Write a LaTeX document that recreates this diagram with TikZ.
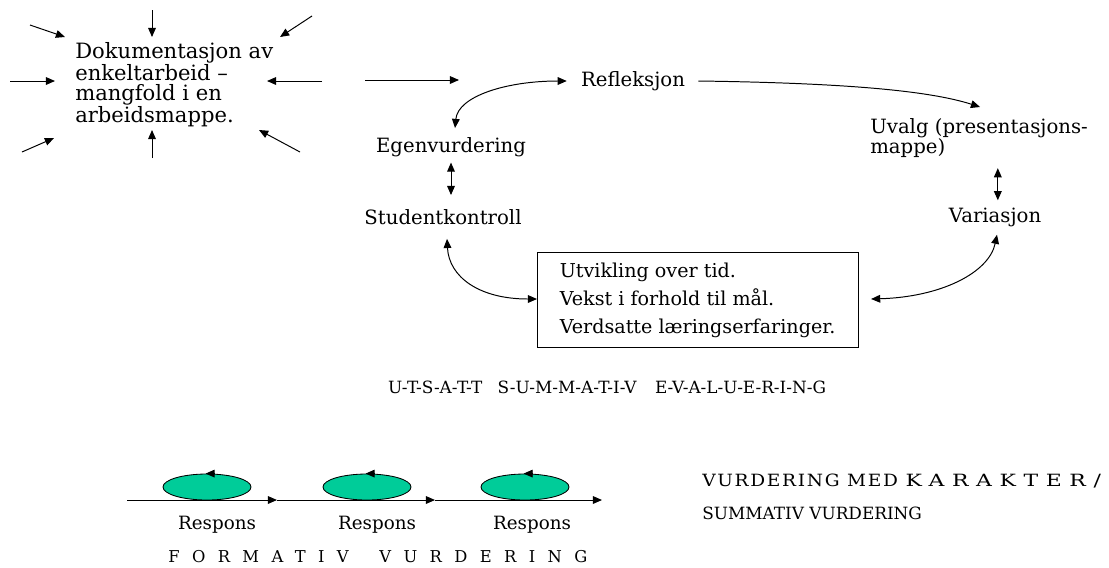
\documentclass[tikz,border=0pt]{standalone}
\usepackage{fontspec}
\usepackage{tikz}
\usetikzlibrary{shapes.geometric, arrows.meta}
\usetikzlibrary{calc}
\setmainfont{DejaVu Serif}
\newfontfamily\spacedfont[LetterSpace=76]{DejaVu Serif}
\newfontfamily\capsfont[FakeStretch=1.1, LetterSpace=10]{DejaVu Serif}
\newfontfamily\widecapsfont[FakeStretch=1.3, LetterSpace=45]{DejaVu Serif}
\definecolor{respgreen}{RGB}{0,204,153}
\tikzstyle{lbl} = [inner sep=0pt, font=\fontsize{14}{14.2}\selectfont]
\tikzstyle{arrow} = [line width=0.7pt, -{Triangle[length=6.5pt,width=5.5pt]}]
\tikzstyle{dblarrow} = [line width=0.7pt, {Triangle[length=6.5pt,width=5.5pt]}-{Triangle[length=6.5pt,width=5.5pt]}]
\tikzstyle{loopnode} = [ellipse, draw=black, line width=0.6pt, fill=respgreen, minimum width=2.2cm, minimum height=0.65cm, inner sep=0pt]
\tikzstyle{box} = [draw=black, line width=0.7pt, anchor=north west, minimum width=8.025cm, minimum height=2.375cm, inner sep=0pt]

\begin{document}
\begin{tikzpicture}[x=0.025cm, y=-0.025cm]
        \useasboundingbox (0,0) rectangle (1109,567);

        % work folder with everything pointing in
        \node(doc) [lbl, anchor=north west, align=left, font=\fontsize{15}{14.3}\selectfont] at (75,42) {Dokumentasjon av\\enkeltarbeid –\\mangfold i en\\arbeidsmappe.};
        \coordinate (nt) at (152,10);  \coordinate (nh) at (152,37);
        \coordinate (nwt) at (30,25);  \coordinate (nwh) at (65,37);
        \coordinate (net) at (312,16); \coordinate (neh) at (280,37);
        \coordinate (wt) at (10,81);   \coordinate (wh) at (55,81);
        \coordinate (et) at (322,81);  \coordinate (eh) at (267,81);
        \coordinate (swt) at (22,152); \coordinate (swh) at (54,138);
        \coordinate (st) at (152,158); \coordinate (sh) at (152,130);
        \coordinate (set) at (300,152); \coordinate (seh) at (259,130);

        \draw[arrow] (nt) -- (nh);
        \draw[arrow] (nwt) -- (nwh);
        \draw[arrow] (net) -- (neh);
        \draw[arrow] (wt) -- (wh);
        \draw[arrow] (et) -- (eh);
        \draw[arrow] (swt) -- (swh);
        \draw[arrow] (st) -- (sh);
        \draw[arrow] (set) -- (seh);

        \coordinate (flowA) at (365,80);
        \coordinate (flowB) at (459,80);
        \draw[arrow] (flowA) -- (flowB);

        % the cycle
        \node(refl) [lbl] at (633,81) {Refleksjon};
        \node(egen) [lbl] at (451,147) {Egenvurdering};
        \node(stud) [lbl] at (443,217) {Studentkontroll};
        \node(uvalg) [lbl, anchor=north west, align=left, font=\fontsize{14}{13.5}\selectfont] at (870,118) {Uvalg (presentasjons-\\mappe)};
        \node(var) [lbl] at (995,217) {Variasjon};
        \node(goal) [box] at (537,252) {};
        \node(goaltext) [lbl, anchor=west, align=left, font=\fontsize{13.6}{19.85}\selectfont] at ([xshift=16pt]goal.west) {Utvikling over tid.\\Vekst i forhold til mål.\\Verdsatte læringserfaringer.};

        \draw[dblarrow] ([shift={(4,-9)}]egen.north) .. controls +(3,-32) and +(-60,0) .. ([shift={(-14,0)}]refl.west);
        \draw[arrow] ([shift={(13,0)}]refl.east) .. controls +(150,2) and +(-50,-16) .. ([shift={(1,-11)}]uvalg.north);
        \draw[dblarrow, shorten <=4pt, shorten >=10pt] (egen.south) -- (egen.south |- stud.north);
        \draw[dblarrow, shorten <=7pt, shorten >=5pt] ([xshift=2pt]var.north |- uvalg.south) -- ([xshift=2pt]var.north);
        \draw[dblarrow] ([shift={(4,14)}]stud.south) .. controls +(2,38) and +(-58,0) .. ([shift={(0,-1)}]goal.west);
        \draw[dblarrow] ([shift={(2,8)}]var.south) .. controls +(-8,38) and +(70,-2) .. ([shift={(12,-1)}]goal.east);

        \node(utsatt) [lbl, font=\fontsize{12}{12}\selectfont] at (607,387) {U-T-S-A-T-T\hspace{0.9em}S-U-M-M-A-T-I-V\hspace{1.1em}E-V-A-L-U-E-R-I-N-G};

        % formative loop
        \node(resp1) [loopnode] at (207,487) {};
        \node(resp2) [loopnode] at (367,487) {};
        \node(resp3) [loopnode] at (525,487) {};
        \draw[arrow] ([xshift=6pt]resp1.north) -- ([xshift=-1pt]resp1.north);
        \draw[arrow] ([xshift=6pt]resp2.north) -- ([xshift=-1pt]resp2.north);
        \draw[arrow] ([xshift=6pt]resp3.north) -- ([xshift=-1pt]resp3.north);

        \coordinate (b0) at (127,500);
        \coordinate (b1) at (277,500);
        \coordinate (b2) at (435,500);
        \coordinate (b3) at (602,500);
        \draw[arrow] (b0) -- (b1);
        \draw[arrow] (b1) -- (b2);
        \draw[arrow] (b2) -- (b3);

        \node(lab1) [lbl, font=\fontsize{13}{13}\selectfont] at (217,525) {Respons};
        \node(lab2) [lbl, font=\fontsize{13}{13}\selectfont] at (377,525) {Respons};
        \node(lab3) [lbl, font=\fontsize{13}{13}\selectfont] at (532,525) {Respons};

        \node(karakter) [lbl, anchor=west, font=\fontsize{12}{12}\selectfont] at (702,481) {{\capsfont VURDERING MED }{\widecapsfont KARAKTER/}};
        \node(summativ) [lbl, anchor=west, font=\fontsize{12}{12}\selectfont] at (702,513) {SUMMATIV VURDERING};
        \node(formativ) [lbl, anchor=west, font=\fontsize{11.6}{12}\selectfont] at (168,557) {\spacedfont FORMATIV\hspace{0.8em} VURDERING};
    \end{tikzpicture}
\end{document}
